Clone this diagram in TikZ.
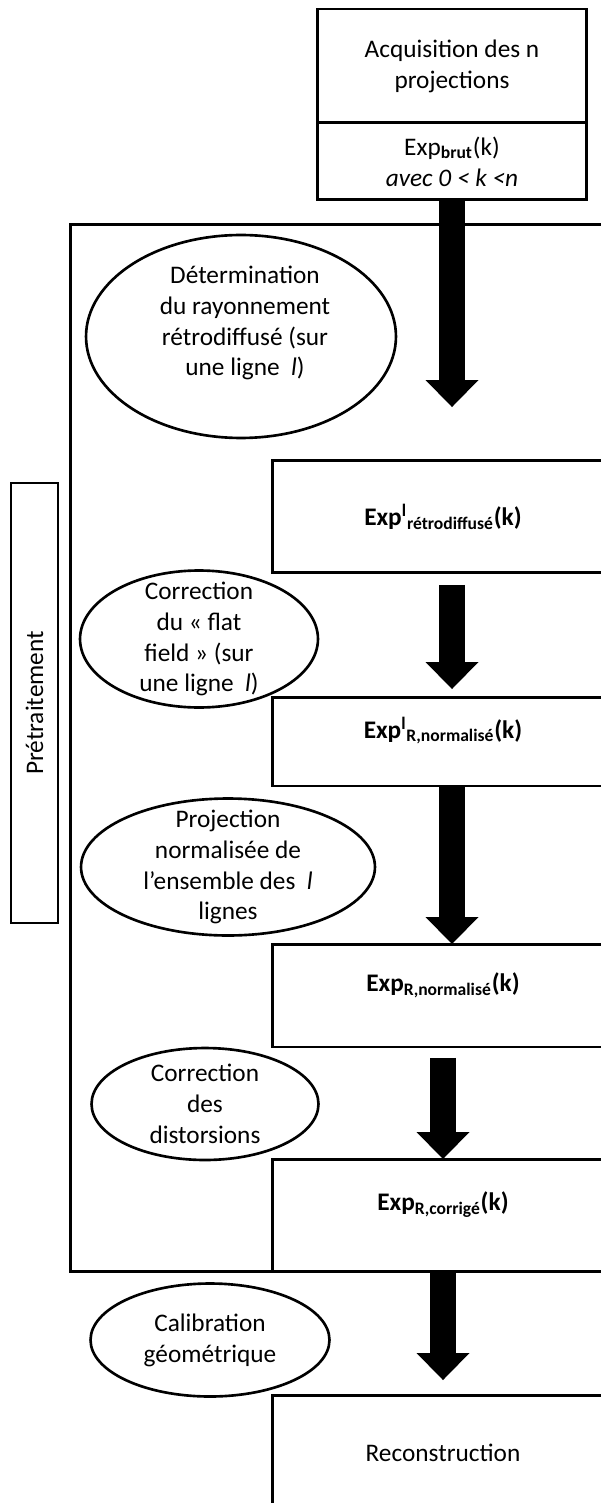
\documentclass[tikz,border=0pt]{standalone}
\usepackage{fontspec}
\setmainfont{Carlito}
\usepackage{tikz}
\usetikzlibrary{arrows.meta, positioning}

\begin{document}
\begin{tikzpicture}[x=0.02cm, y=-0.02cm,
    txt/.style={font=\fontsize{14.4}{17.6}\selectfont},
    head/.style={txt, draw, line width=1.7pt, outer sep=0pt, minimum width=5.4cm, align=center},
    stage/.style={draw, line width=1.7pt, inner sep=0pt, outer sep=0pt, minimum width=6.84cm,
                  font=\fontsize{14.4}{17.6}\selectfont\bfseries},
    lbl/.style={txt, align=center},
    oval/.style={draw, line width=1.5pt},
    bigarr/.style={-{Triangle[length=0.54cm, width=1.06cm, line width=0pt]}, line width=0.52cm}]
  \useasboundingbox (0,0) rectangle (601,1503);
  \clip (0,0) rectangle (601,1503);
  % acquisition
  \node[head, minimum height=2.28cm] (acq) at (452,66) {Acquisition des n\\projections};
  \node[head, minimum height=1.54cm, below=0pt of acq] (brut)
    {Exp\textsubscript{\textbf{brut}}(k)\\ \textit{avec 0 < k <n}};
  % pretraitement frame
  \node[draw, line width=1.7pt, inner sep=0pt, outer sep=0pt,
        minimum width=11cm, minimum height=20.96cm] (pre) at (345,748) {};
  \node[txt, draw, line width=1.2pt, rotate=90, inner sep=0pt,
        minimum width=8.8cm, minimum height=0.94cm] (pretxt) at (34.5,703) {Prétraitement};
  % intermediate results
  \node[stage, minimum height=2.26cm] (retro) at (443,516.5)
    {Exp\textsuperscript{l}\textsubscript{rétrodiffusé}(k)};
  \node[stage, minimum height=1.78cm, text depth=16pt] (normL) at (443,741.5)
    {Exp\textsuperscript{l}\textsubscript{R,normalisé}(k)};
  \node[stage, minimum height=2.06cm, text depth=15pt] (normR) at (443,995.5)
    {Exp\textsubscript{R,normalisé}(k)};
  \node[stage, minimum height=2.26cm, text depth=16pt] (corr) at (443,1215.5)
    {Exp\textsubscript{R,corrigé}(k)};
  \node[stage, minimum height=2.32cm] (recon) at (443,1453) {\mdseries Reconstruction};
  % operations
  \node[lbl] (determ) at (245,323)
    {Détermination\\du rayonnement\\rétrodiffusé (sur\\une ligne~ \textit{l})};
  \draw[oval] ([shift={(-0.08cm,-0.27cm)}]determ.center) ellipse [x radius=3.1cm, y radius=2.03cm];
  \node[lbl] (flat) at (199,639) {Correction\\du «~flat\\field~» (sur\\une ligne~ \textit{l})};
  \draw[oval] (flat.center) ellipse [x radius=2.38cm, y radius=1.37cm];
  \node[lbl] (proj) at (228,867)
    {Projection\\normalisée de\\l’ensemble des~ \textit{l}\\lignes};
  \draw[oval] (proj.center) ellipse [x radius=2.94cm, y radius=1.37cm];
  \node[lbl] (dist) at (205,1104) {Correction\\des\\distorsions};
  \draw[oval] (dist.center) ellipse [x radius=2.27cm, y radius=1.12cm];
  \node[lbl] (calib) at (210,1340) {Calibration\\géométrique};
  \draw[oval] (calib.center) ellipse [x radius=2.39cm, y radius=1.13cm];
  % flow
  \draw[bigarr, shorten >=1.06cm] (brut.south) -- (brut.south |- retro.north);
  \draw[bigarr, shorten <=0.24cm, shorten >=0.16cm] (retro.south -| brut.south) -- (normL.north -| brut.south);
  \draw[bigarr] (normL.south -| brut.south) -- (normR.north -| brut.south);
  \draw[bigarr, shorten <=0.22cm] (normR.south) -- (corr.north);
  \draw[bigarr, shorten >=0.3cm] (corr.south) -- (recon.north);
\end{tikzpicture}
\end{document}
